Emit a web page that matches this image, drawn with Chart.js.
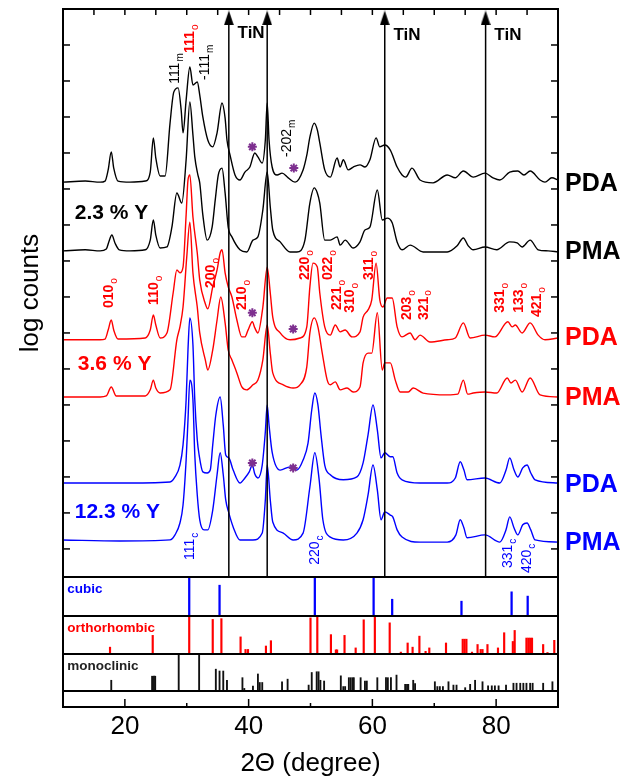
<!DOCTYPE html>
<html>
<head>
<meta charset="utf-8">
<title>XRD patterns</title>
<script src="https://cdn.jsdelivr.net/npm/chart.js@4.4.1/dist/chart.umd.min.js"></script>
<style>
    html, body { margin: 0; padding: 0; background: #fff; }
    canvas { display: block; }
</style>
</head>
<body>
<canvas id="xrd" width="629" height="781"></canvas>
<script>
//--- Data: [2Theta (degree), log counts] per trace (traces are offset)
var pda23 = [[10.0,10.19],[13.6,10.22],[16.0,10.19],[16.8,10.22],[17.3,10.53],[17.8,11.03],[18.2,10.58],[18.9,10.22],[20.8,10.19],[23.3,10.22],
    [24.1,10.47],[24.6,11.42],[25.0,10.86],[25.7,10.36],[26.5,10.36],[27.3,11.83],[27.9,12.69],[28.6,12.81],[29.1,12.19],[29.4,11.56],
    [29.9,12.47],[30.5,13.39],[31.0,12.89],[31.7,12.97],[32.1,12.61],[32.6,12.0],[33.4,11.36],[34.2,11.17],[34.9,11.56],[35.7,12.39],
    [36.2,11.97],[36.5,11.36],[37.0,10.94],[37.8,10.39],[38.6,10.25],[39.4,10.47],[40.2,10.61],[41.0,11.0],[41.5,10.89],[42.2,10.72],
    [42.7,11.36],[43.0,12.39],[43.3,11.36],[43.8,10.61],[44.6,10.39],[45.4,10.44],[46.4,10.31],[47.5,10.19],[48.8,10.53],[49.4,10.94],
    [49.9,11.44],[50.6,11.83],[51.1,11.64],[51.5,11.28],[52.3,10.53],[53.2,10.33],[54.3,10.86],[54.8,10.61],[55.3,10.81],[56.1,10.53],
    [56.9,10.61],[58.0,10.67],[58.8,10.61],[59.6,10.81],[60.6,11.42],[61.2,11.17],[62.0,11.22],[62.9,11.08],[64.0,10.61],[64.8,10.39],
    [65.4,10.33],[66.4,10.58],[67.7,10.25],[69.8,10.17],[72.1,10.39],[73.4,10.31],[74.7,10.5],[76.3,10.33],[78.2,10.44],[79.5,10.31],
    [80.6,10.25],[82.2,10.47],[83.5,10.5],[84.5,10.39],[85.5,10.5],[87.1,10.25],[87.9,10.19],[89.0,10.31],[90.0,10.25]];

var pma23 = [[10.0,8.28],[13.6,8.31],[16.0,8.28],[17.0,8.33],[17.4,8.53],[17.9,8.72],[18.4,8.5],[19.1,8.31],[20.8,8.28],[23.3,8.31],
    [24.1,8.58],[24.6,9.14],[25.0,8.72],[25.7,8.36],[26.8,8.39],[27.6,8.94],[28.4,9.89],[29.2,9.61],[29.9,10.81],[30.5,12.42],
    [31.0,11.5],[31.3,10.89],[31.8,10.39],[32.1,10.17],[32.6,9.28],[33.3,8.58],[34.1,8.94],[34.6,9.69],[35.1,10.39],[35.7,10.58],
    [36.2,9.89],[36.7,8.94],[37.3,8.67],[38.6,8.31],[39.7,8.25],[40.7,8.58],[41.5,8.67],[42.3,9.42],[43.0,10.47],[43.5,9.5],
    [43.9,8.86],[45.1,8.53],[46.7,8.25],[47.8,8.25],[49.1,8.58],[49.9,9.61],[50.6,10.03],[51.1,9.89],[51.5,9.61],[52.3,8.58],
    [53.2,8.58],[54.3,8.67],[54.8,8.44],[55.6,8.58],[56.9,8.36],[58.0,8.53],[58.8,8.86],[59.6,8.94],[60.8,9.97],[61.6,9.14],
    [62.4,9.19],[63.2,9.06],[64.0,8.53],[64.8,8.31],[66.1,8.44],[68.2,8.25],[72.1,8.25],[73.7,8.42],[74.7,8.64],[75.5,8.42],
    [76.3,8.31],[78.2,8.39],[80.1,8.31],[82.2,8.53],[83.4,8.5],[84.2,8.39],[85.5,8.58],[86.8,8.31],[88.4,8.28],[90.0,8.25]];

var pda36 = [[10.0,5.81],[16.0,5.81],[16.8,5.83],[17.3,6.08],[17.8,6.36],[18.2,6.08],[18.9,5.83],[23.3,5.86],[24.1,6.08],[24.6,6.5],
    [25.0,6.22],[25.7,5.86],[26.8,6.0],[27.8,7.11],[28.4,7.75],[28.9,7.67],[29.4,7.83],[29.9,9.28],[30.2,10.25],[30.5,10.39],
    [31.0,9.22],[31.7,8.22],[32.1,7.47],[33.0,6.81],[33.4,6.67],[34.2,7.28],[34.9,7.75],[35.4,8.22],[35.7,8.31],[36.2,7.67],
    [36.7,7.28],[37.3,7.0],[38.1,6.36],[38.9,5.89],[39.4,5.89],[39.9,6.08],[40.6,6.31],[41.0,6.14],[41.5,6.0],[42.3,6.72],
    [43.0,7.83],[43.5,7.11],[43.9,6.44],[45.1,6.0],[46.7,5.81],[48.3,5.86],[49.4,6.17],[49.9,7.28],[50.4,7.94],[51.1,7.83],
    [51.5,7.11],[52.3,6.17],[53.2,5.94],[54.0,6.22],[54.8,6.03],[55.6,6.08],[56.7,5.89],[58.0,6.03],[58.5,6.44],[59.3,6.64],
    [59.9,6.92],[60.6,7.94],[61.2,6.92],[61.7,6.72],[62.4,6.97],[63.2,6.97],[64.0,6.17],[64.8,5.89],[66.1,6.0],[66.9,5.81],
    [67.7,5.94],[69.3,5.75],[72.1,5.81],[73.4,5.86],[74.7,6.28],[75.8,5.86],[78.2,5.94],[79.8,5.89],[81.9,6.31],[82.6,6.17],
    [83.1,6.22],[84.2,6.0],[85.5,6.28],[86.8,5.94],[87.9,5.81],[90.0,5.86]];

var pma36 = [[10.0,4.22],[16.0,4.22],[17.0,4.25],[17.8,4.5],[18.6,4.25],[23.3,4.25],[24.1,4.42],[24.6,4.69],[25.0,4.47],[25.7,4.33],
    [27.3,4.42],[28.4,5.81],[28.9,6.17],[29.4,6.72],[30.0,8.11],[30.5,9.08],[31.0,7.67],[31.7,6.72],[32.1,6.0],[33.0,5.25],
    [33.4,4.97],[34.2,5.53],[34.9,6.36],[35.5,7.0],[36.2,6.28],[36.7,5.53],[37.3,5.25],[38.1,4.89],[38.9,4.5],[39.7,4.42],
    [40.7,4.56],[41.5,4.69],[42.3,5.25],[43.0,6.22],[43.5,5.44],[43.9,4.89],[45.6,4.56],[47.2,4.47],[48.3,4.56],[49.4,5.06],
    [49.9,6.0],[50.6,6.42],[51.2,6.17],[51.9,5.44],[52.7,4.69],[53.2,4.56],[54.0,4.64],[54.8,4.42],[55.9,4.47],[56.9,4.36],
    [58.0,4.5],[58.5,5.17],[59.3,5.44],[59.9,5.44],[60.8,6.56],[61.6,4.97],[62.0,5.17],[62.9,5.17],[63.7,4.69],[64.5,4.36],
    [65.8,4.36],[66.6,4.47],[68.2,4.33],[72.1,4.28],[73.8,4.3],[74.7,4.69],[75.4,4.3],[76.3,4.33],[78.2,4.36],[80.1,4.33],
    [81.8,4.75],[82.4,4.61],[83.1,4.69],[84.2,4.36],[85.5,4.75],[87.1,4.28],[90.0,4.22]];

var pda123 = [[10.0,1.83],[19.2,1.83],[27.3,1.86],[28.1,2.0],[28.9,2.33],[29.4,2.89],[29.9,4.14],[30.2,5.53],[30.5,6.42],[31.0,5.67],
    [31.3,4.14],[31.7,3.03],[32.0,2.61],[32.6,2.14],[33.3,2.11],[33.8,2.19],[34.2,2.89],[34.7,3.72],[35.4,4.22],[35.9,3.44],
    [36.3,2.61],[36.8,2.53],[37.5,2.19],[38.6,1.83],[39.4,1.97],[40.1,2.14],[40.6,2.33],[41.0,2.08],[41.5,1.97],[42.2,2.33],
    [42.7,3.25],[43.0,4.0],[43.3,3.44],[43.8,2.69],[45.1,2.19],[46.7,2.28],[47.8,2.19],[48.8,2.47],[49.6,2.94],[50.2,3.86],
    [50.7,4.33],[51.2,4.0],[51.7,3.17],[52.3,2.33],[53.2,2.06],[55.3,1.92],[57.5,2.0],[58.5,2.39],[59.3,3.17],[60.1,4.0],
    [60.8,3.31],[61.4,2.53],[62.0,2.67],[62.9,2.56],[63.3,2.56],[64.0,2.11],[64.8,1.92],[67.7,1.83],[72.1,1.83],[73.4,1.97],
    [74.2,2.42],[74.8,2.19],[75.3,1.92],[78.2,1.97],[80.6,1.83],[81.6,2.19],[82.2,2.53],[82.9,2.19],[83.5,2.0],[84.3,2.25],
    [85.0,2.33],[85.6,2.11],[86.3,1.92],[90.0,1.83]];

var pma123 = [[10.0,0.25],[19.2,0.22],[27.3,0.25],[28.1,0.39],[28.9,0.72],[29.4,1.22],[29.9,2.47],[30.2,3.58],[30.5,4.69],[31.0,4.14],
    [31.3,2.61],[31.7,1.5],[32.1,0.81],[32.8,0.53],[33.4,0.53],[34.2,1.08],[34.9,2.06],[35.4,2.67],[35.9,2.06],[36.3,1.36],
    [36.8,1.0],[37.5,0.61],[38.6,0.25],[40.7,0.25],[42.2,0.44],[42.7,1.36],[43.0,2.33],[43.5,1.36],[43.9,0.75],[45.6,0.44],
    [47.2,0.25],[48.8,0.44],[49.9,1.72],[50.7,2.67],[51.4,1.92],[52.0,0.81],[53.2,0.33],[55.3,0.25],[57.5,0.44],[58.5,0.81],
    [59.3,1.5],[60.1,2.33],[60.8,1.64],[61.4,0.81],[62.0,1.03],[62.9,0.94],[63.3,0.89],[64.0,0.53],[64.8,0.33],[67.7,0.19],
    [72.1,0.19],[73.5,0.39],[74.2,0.81],[74.8,0.58],[75.3,0.31],[78.2,0.39],[80.6,0.19],[81.6,0.53],[82.2,0.89],[82.9,0.58],
    [83.5,0.39],[84.3,0.67],[85.0,0.72],[85.6,0.53],[86.3,0.25],[90.0,0.19]];

//--- Reference patterns: position (degree) and relative intensity (%)
var cubicPos = [30.4, 35.3, 50.7, 60.2, 63.2, 74.4, 82.5, 85.1];
var cubicInt = [100, 79, 100, 100, 43, 38, 62, 51];

var orthoPos = [17.6, 24.5, 30.4, 34.2, 35.6, 38.7, 39.5, 39.9, 42.8, 43.6, 50.0, 51.1, 53.3, 54.1, 54.3, 55.5, 57.3, 58.6, 60.4, 62.8,
    64.6, 65.7, 66.5, 67.6, 68.6, 69.2, 71.9, 74.6, 74.9, 75.2, 76.1, 77.0, 77.5, 77.8, 78.6, 80.3, 81.3, 82.7, 83.0, 84.9,
    85.2, 85.5, 85.8, 87.6, 88.3, 89.4];
var orthoInt = [18, 49, 100, 91, 93, 45, 12, 12, 21, 35, 95, 100, 51, 11, 11, 49, 16, 90, 100, 82,
    5, 29, 18, 47, 7, 16, 29, 39, 39, 39, 5, 25, 12, 12, 25, 16, 56, 33, 62, 42,
    42, 42, 42, 25, 4, 36];

var monoPos = [17.8, 24.4, 24.7, 24.9, 28.7, 32.0, 34.7, 35.3, 35.9, 36.5, 39.0, 39.3, 40.7, 41.5, 41.8, 42.2, 45.4, 46.3, 49.7, 50.2,
    51.0, 51.3, 51.6, 52.2, 54.9, 55.3, 55.6, 56.2, 56.5, 56.8, 57.0, 58.1, 58.8, 59.1, 60.8, 62.2, 62.5, 63.0, 63.9, 65.3,
    65.6, 65.8, 66.6, 66.9, 70.1, 70.5, 70.9, 71.4, 72.3, 73.1, 73.6, 75.0, 75.8, 76.6, 77.8, 78.7, 79.3, 79.8, 80.4, 81.6,
    82.8, 83.3, 83.9, 84.4, 84.9, 85.5, 85.9, 87.6, 89.1];
var monoInt = [29, 40, 40, 40, 100, 100, 59, 54, 54, 29, 36, 7, 13, 46, 23, 23, 25, 32, 16, 50,
    52, 52, 29, 27, 41, 12, 12, 36, 36, 36, 36, 36, 27, 27, 36, 36, 36, 36, 43, 18,
    18, 18, 29, 20, 25, 12, 12, 12, 25, 16, 16, 9, 18, 29, 25, 14, 14, 14, 14, 16,
    21, 21, 21, 21, 21, 21, 21, 21, 25];

//--- TiN reflections and impurity peaks (*)
var tinPos = [36.8, 43.0, 62.0, 78.3];
var starPts = [[40.6, 11.17], [47.3, 10.58], [40.6, 6.56], [47.2, 6.11], [40.6, 2.39], [47.2, 2.25]];

//--- Text
var sampleNames = ['2.3 % Y', '3.6 % Y', '12.3 % Y'];
var methods = ['PDA', 'PMA'];

// ---------------------------------------------------------------
var FONT = 'Liberation Sans, Arial, sans-serif';
var BLACK = '#000000', RED = '#ff0000', BLUE = '#0000ff', PURPLE = '#7d2f8f';
Chart.defaults.font.family = FONT;
Chart.defaults.color = '#000';

function pts(arr) {
    return arr.map(function (p) { return { x: p[0], y: p[1] }; });
}
function bars(pos, val) {
    return pos.map(function (p, i) { return { x: p, y: val[i] }; });
}

// arrow head for TiN markers
var arrowImg = document.createElement('canvas');
arrowImg.width = 10; arrowImg.height = 15;
(function () {
    var g = arrowImg.getContext('2d');
    g.fillStyle = '#000';
    g.beginPath(); g.moveTo(5, 0); g.lineTo(10, 15); g.lineTo(0, 15); g.closePath(); g.fill();
})();

function trace(data, color) {
    return {
        type: 'line', data: pts(data), yAxisID: 'y', borderColor: color, borderWidth: 1.4,
        pointRadius: 0, cubicInterpolationMode: 'monotone', order: color === BLUE ? 1 : color === RED ? 2 : 3
    };
}
function refBars(pos, val, color, axis, w) {
    return {
        type: 'bar', data: bars(pos, val), yAxisID: axis, backgroundColor: color, borderWidth: 0,
        barThickness: w, grouped: false, order: 5
    };
}

var datasets = [];
tinPos.forEach(function (p) {
    datasets.push({
        type: 'line', data: [{ x: p, y: -0.78 }, { x: p, y: 14.75 }], yAxisID: 'y',
        borderColor: '#000', borderWidth: 1.5, pointStyle: ['circle', arrowImg], pointRadius: [0, 5], order: 0
    });
});
datasets.push({
    type: 'scatter', data: pts(starPts), yAxisID: 'y', pointStyle: 'star', pointRadius: 4.5,
    borderColor: PURPLE, pointBorderWidth: 2, backgroundColor: PURPLE, showLine: false, order: 0
});
datasets.push(trace(pma123, BLUE), trace(pda123, BLUE));
datasets.push(trace(pma36, RED), trace(pda36, RED));
datasets.push(trace(pma23, BLACK), trace(pda23, BLACK));
datasets.push(refBars(cubicPos, cubicInt, BLUE, 'yc', 1.6));
datasets.push(refBars(orthoPos, orthoInt, RED, 'yo', 1.5));
datasets.push(refBars(monoPos, monoInt, '#111', 'ym', 1.2));

//--- annotations (data coordinates)
var hkl = [
    ['111', 'm', 28.1, 12.92, BLACK], ['-111', 'm', 33.0, 13.03, BLACK], ['-202', 'm', 46.2, 10.89, BLACK],
    ['111', 'o', 30.5, 13.78, RED], ['010', 'o', 17.4, 6.69, RED], ['110', 'o', 24.7, 6.78, RED],
    ['200', 'o', 33.9, 7.25, RED], ['210', 'o', 38.9, 6.64, RED], ['220', 'o', 49.1, 7.47, RED],
    ['022', 'o', 52.8, 7.47, RED], ['221', 'o', 54.3, 6.64, RED], ['310', 'o', 56.4, 6.56, RED],
    ['311', 'o', 59.5, 7.47, RED], ['203', 'o', 65.6, 6.36, RED], ['321', 'o', 68.3, 6.36, RED],
    ['331', 'o', 80.6, 6.56, RED], ['133', 'o', 83.7, 6.56, RED], ['421', 'o', 86.6, 6.44, RED],
    ['111', 'c', 30.5, -0.31, BLUE], ['220', 'c', 50.7, -0.44, BLUE], ['331', 'c', 81.9, -0.53, BLUE],
    ['420', 'c', 85.0, -0.67, BLUE]
];
var sampleAt = [[11.9, 9.33, BLACK], [12.4, 5.14, RED], [11.9, 1.03, BLUE]];
var methodAt = [[10.14, BLACK], [8.25, BLACK], [5.86, RED], [4.19, RED], [1.78, BLUE], [0.17, BLUE]];
var tinAt = [[40.4, 14.33], [65.6, 14.28], [81.9, 14.28]];
var panelNames = [['cubic', 'yc', BLUE], ['orthorhombic', 'yo', RED], ['monoclinic', 'ym', '#222']];

var decorations = {
    id: 'decorations',
    afterDatasetsDraw: function (chart) {
        var ctx = chart.ctx, a = chart.chartArea, s = chart.scales;
        var x = s.x, y = s.y;
        function line(x1, y1, x2, y2) { ctx.beginPath(); ctx.moveTo(x1, y1); ctx.lineTo(x2, y2); ctx.stroke(); }
        ctx.save();
        ctx.strokeStyle = '#000';

        //--- frame and panel separators
        ctx.lineWidth = 2;
        ['yc', 'yo', 'ym', 'yb'].forEach(function (id) { line(a.left, s[id].top, a.right, s[id].top); });
        ctx.strokeRect(a.left, a.top, a.right - a.left, a.bottom - a.top);

        //--- inner ticks
        ctx.lineWidth = 1.5;
        for (var d = 15; d <= 85; d += 5) {
            var px = x.getPixelForValue(d);
            line(px, a.top, px, a.top + 6);
        }
        for (var v = 0; v <= 14; v++) {
            var py = y.getPixelForValue(v);
            line(a.left, py, a.left + 7, py);
            line(a.right - 7, py, a.right, py);
        }
        for (d = 20; d <= 80; d += 10) {
            px = x.getPixelForValue(d);
            line(px, a.bottom, px, a.bottom - (d % 20 === 0 ? 8 : 4));
        }

        //--- reflex labels, rotated
        hkl.forEach(function (h) {
            ctx.save();
            ctx.translate(x.getPixelForValue(h[2]), y.getPixelForValue(h[3]));
            ctx.rotate(-Math.PI / 2);
            ctx.fillStyle = h[4];
            ctx.textAlign = 'left'; ctx.textBaseline = 'middle';
            ctx.font = (h[4] === RED ? 'bold ' : '') + '14px ' + FONT;
            ctx.fillText(h[0], 0, 0);
            var w = ctx.measureText(h[0]).width;
            ctx.font = '10px ' + FONT;
            ctx.fillText(h[1], w + 1, 5);
            ctx.restore();
        });

        //--- TiN
        ctx.fillStyle = '#000';
        ctx.font = 'bold 17px ' + FONT;
        ctx.textAlign = 'center'; ctx.textBaseline = 'middle';
        tinAt.forEach(function (t) { ctx.fillText('TiN', x.getPixelForValue(t[0]), y.getPixelForValue(t[1])); });

        //--- sample names
        ctx.font = 'bold 21px ' + FONT;
        ctx.textAlign = 'left';
        sampleAt.forEach(function (t, i) {
            ctx.fillStyle = t[2];
            ctx.fillText(sampleNames[i], x.getPixelForValue(t[0]), y.getPixelForValue(t[1]));
        });

        //--- PDA / PMA at the right side
        ctx.font = 'bold 25px ' + FONT;
        methodAt.forEach(function (t, i) {
            ctx.fillStyle = t[1];
            ctx.fillText(methods[i % 2], a.right + 7, y.getPixelForValue(t[0]));
        });

        //--- panel names
        ctx.font = 'bold 13.5px ' + FONT;
        panelNames.forEach(function (p) {
            ctx.fillStyle = p[2];
            ctx.fillText(p[0], x.getPixelForValue(10.7), s[p[1]].getPixelForValue(68));
        });
        ctx.restore();
    }
};

function panelAxis(weight, order) {
    return {
        type: 'linear', position: 'left', stack: 'v', stackWeight: weight, weight: order,
        min: 0, max: 100, ticks: { display: false }, grid: { display: false, drawTicks: false },
        border: { display: false }, afterFit: function (sc) { sc.width = 63; }
    };
}

new Chart(document.getElementById('xrd'), {
    type: 'line',
    data: { datasets: datasets },
    options: {
        responsive: false,
        devicePixelRatio: 1,
        animation: false,
        layout: { padding: { top: 9, right: 71, left: 0, bottom: 0 } },
        plugins: { legend: { display: false }, tooltip: { enabled: false } },
        scales: {
            x: {
                type: 'linear', min: 10, max: 90, offset: false,
                grid: { display: false, drawTicks: false }, border: { display: false },
                ticks: {
                    stepSize: 10, padding: 4, autoSkip: false, maxRotation: 0, color: '#000',
                    font: { size: 26 },
                    callback: function (v) { return v % 20 === 0 ? v : ''; }
                },
                title: { display: true, text: '2\u0398 (degree)', color: '#000', font: { size: 26 }, padding: { top: 0, bottom: 2 } },
                afterFit: function (sc) { sc.height = 74; }
            },
            y: {
                type: 'linear', position: 'left', stack: 'v', stackWeight: 568, weight: 5,
                min: -0.78, max: 15, ticks: { display: false }, grid: { display: false, drawTicks: false },
                border: { display: false },
                title: { display: true, text: 'log counts', color: '#000', font: { size: 26 }, padding: { top: 15, bottom: 0 } },
                afterFit: function (sc) { sc.width = 63; }
            },
            yc: panelAxis(39, 4),
            yo: panelAxis(38, 3),
            ym: panelAxis(37, 2),
            yb: panelAxis(16, 1)
        }
    },
    plugins: [decorations]
});
</script>
</body>
</html>
